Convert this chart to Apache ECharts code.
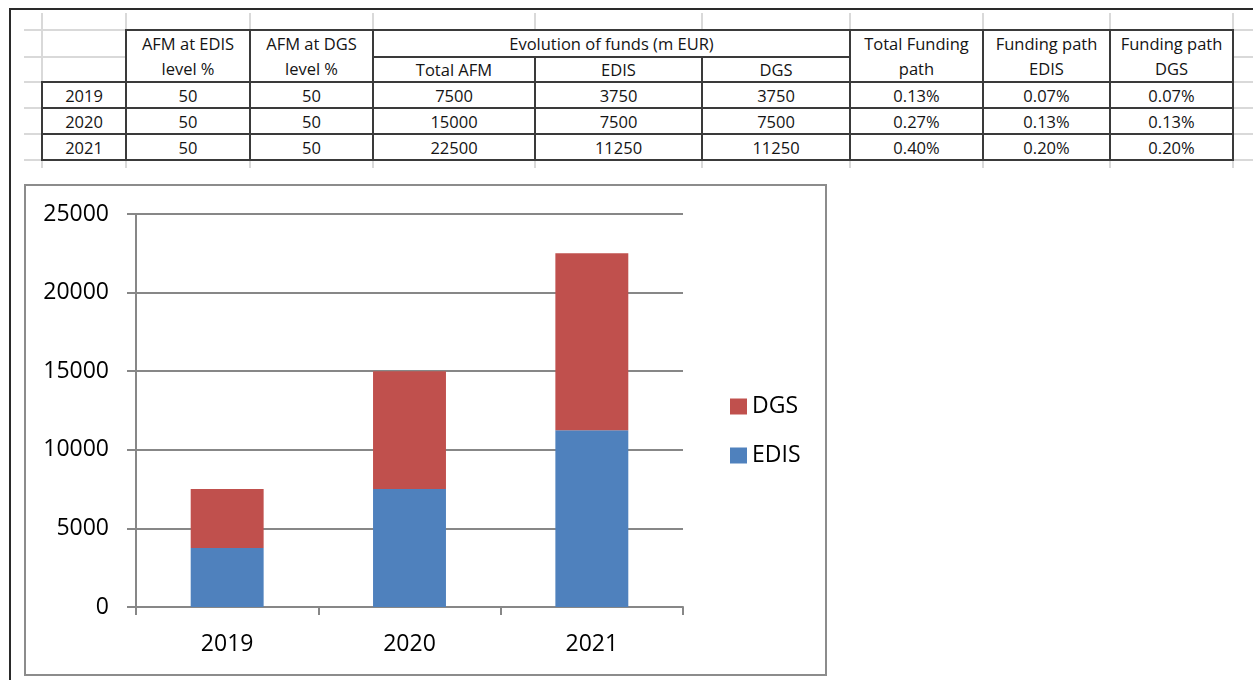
<!DOCTYPE html>
<html>
<head>
<meta charset="utf-8">
<script src="https://cdn.jsdelivr.net/npm/echarts@6/dist/echarts.min.js"></script>
<style>
  html, body { margin: 0; padding: 0; background: #fff; }
  #page { position: relative; width: 1253px; height: 680px; overflow: hidden; background: #fff; }
  #chart { position: absolute; left: 0; top: 0; width: 1253px; height: 680px; }
  #sheet { position: absolute; left: 0; top: 0; width: 1253px; height: 180px; pointer-events: none; }
  .fl { position: absolute; background: #d9d9d9; }
  .cell { position: absolute; box-sizing: border-box; border: 2px solid #3a3a3a; background: #fff;
          display: flex; align-items: center; justify-content: center; text-align: center;
          font-family: "Open Sans", sans-serif; font-size: 16.5px; line-height: 25px; color: #141414; white-space: pre; }
  .frame { position: absolute; background: #2a2a2a; }
</style>
</head>
<body>
<div id="page">
  <div id="chart"></div>
  <div id="sheet"></div>
</div>
<script>
// ---------- data ----------
const years = ['2019', '2020', '2021'];
const afmEdisLevel = [50, 50, 50];
const afmDgsLevel = [50, 50, 50];
const totalAfm = [7500, 15000, 22500];
const edisFunds = [3750, 7500, 11250];
const dgsFunds = [3750, 7500, 11250];
const totalFundingPath = ['0.13%', '0.27%', '0.40%'];
const fundingPathEdis = ['0.07%', '0.13%', '0.20%'];
const fundingPathDgs = ['0.07%', '0.13%', '0.20%'];
const headerLeft = ['AFM at EDIS\nlevel %', 'AFM at DGS\nlevel %'];
const headerGroup = 'Evolution of funds (m EUR)';
const headerSub = ['Total AFM', 'EDIS', 'DGS'];
const headerRight = ['Total Funding\npath', 'Funding path\nEDIS', 'Funding path\nDGS'];
const seriesNames = ['EDIS', 'DGS'];
const yMin = 0, yMax = 25000, yStep = 5000;

// ---------- spreadsheet layout ----------
const colX = [42, 126, 250, 373, 535, 702, 850, 983, 1110, 1233];
const rowY = [30, 57, 82, 108, 134, 160];
const sheet = document.getElementById('sheet');
function add(cls, x, y, w, h, text) {
  const d = document.createElement('div');
  d.className = cls;
  d.style.left = x + 'px'; d.style.top = y + 'px';
  d.style.width = w + 'px'; d.style.height = h + 'px';
  if (text !== undefined) d.textContent = text;
  sheet.appendChild(d);
  return d;
}
// outer dark frame (top & left)
add('frame', 9, 8, 1244, 2);
add('frame', 9, 8, 2, 672);
// faint grid
rowY.forEach(y => add('fl', 24, y - 1, 1229, 2));
colX.forEach(x => add('fl', x - 1, 13, 2, 155));
// bordered cells
function cell(x0, y0, x1, y1, text) { add('cell', x0 - 1, y0 - 1, x1 - x0 + 2, y1 - y0 + 2, text); }
cell(colX[1], rowY[0], colX[2], rowY[2], headerLeft[0]);
cell(colX[2], rowY[0], colX[3], rowY[2], headerLeft[1]);
cell(colX[3], rowY[0], colX[6], rowY[1], headerGroup);
for (let i = 0; i < 3; i++) cell(colX[3 + i], rowY[1], colX[4 + i], rowY[2], headerSub[i]);
for (let i = 0; i < 3; i++) cell(colX[6 + i], rowY[0], colX[7 + i], rowY[2], headerRight[i]);
years.forEach((yr, r) => {
  const vals = [yr, afmEdisLevel[r], afmDgsLevel[r], totalAfm[r], edisFunds[r], dgsFunds[r],
                totalFundingPath[r], fundingPathEdis[r], fundingPathDgs[r]];
  vals.forEach((v, c) => cell(colX[c], rowY[2 + r], colX[c + 1], rowY[3 + r], String(v)));
});

// ---------- chart ----------
const chart = echarts.init(document.getElementById('chart'), null, { renderer: 'canvas' });
const axisGray = '#878787';
const font = '"Open Sans", sans-serif';
chart.setOption({
  animation: false,
  backgroundColor: 'transparent',
  graphic: [{
    type: 'rect', left: 24, top: 184, z: -1,
    shape: { width: 801, height: 490 },
    style: { fill: '#fff', stroke: '#8c8c8c', lineWidth: 2 }
  }],
  grid: { left: 136, top: 214, right: 570, bottom: 73, containLabel: false, outerBoundsMode: 'none' },
  legend: {
    orient: 'vertical', left: 725, top: 390,
    data: ['DGS', 'EDIS'],
    icon: 'rect', itemWidth: 17, itemHeight: 16, itemGap: 26,
    textStyle: { fontFamily: font, fontSize: 23, color: '#000' },
    selectedMode: false
  },
  xAxis: {
    type: 'category', data: years, boundaryGap: true,
    axisLine: { show: true, lineStyle: { color: axisGray, width: 2 } },
    axisTick: { show: true, alignWithLabel: false, inside: false, length: 8, lineStyle: { color: axisGray, width: 2 } },
    axisLabel: { fontFamily: font, fontSize: 23, color: '#000', margin: 26 },
    splitLine: { show: false }
  },
  yAxis: {
    type: 'value', min: yMin, max: yMax, interval: yStep,
    axisLine: { show: true, lineStyle: { color: axisGray, width: 2 } },
    axisTick: { show: true, inside: false, length: 9, lineStyle: { color: axisGray, width: 2 } },
    axisLabel: { fontFamily: font, fontSize: 23, color: '#000', margin: 27, formatter: v => String(v) },
    splitLine: { show: true, lineStyle: { color: axisGray, width: 2 } }
  },
  series: [
    { name: seriesNames[0], type: 'bar', stack: 'funds', data: edisFunds, barWidth: '40%',
      itemStyle: { color: '#4F81BD' } },
    { name: seriesNames[1], type: 'bar', stack: 'funds', data: dgsFunds, barWidth: '40%',
      itemStyle: { color: '#C0504D' } }
  ]
});
</script>
</body>
</html>
